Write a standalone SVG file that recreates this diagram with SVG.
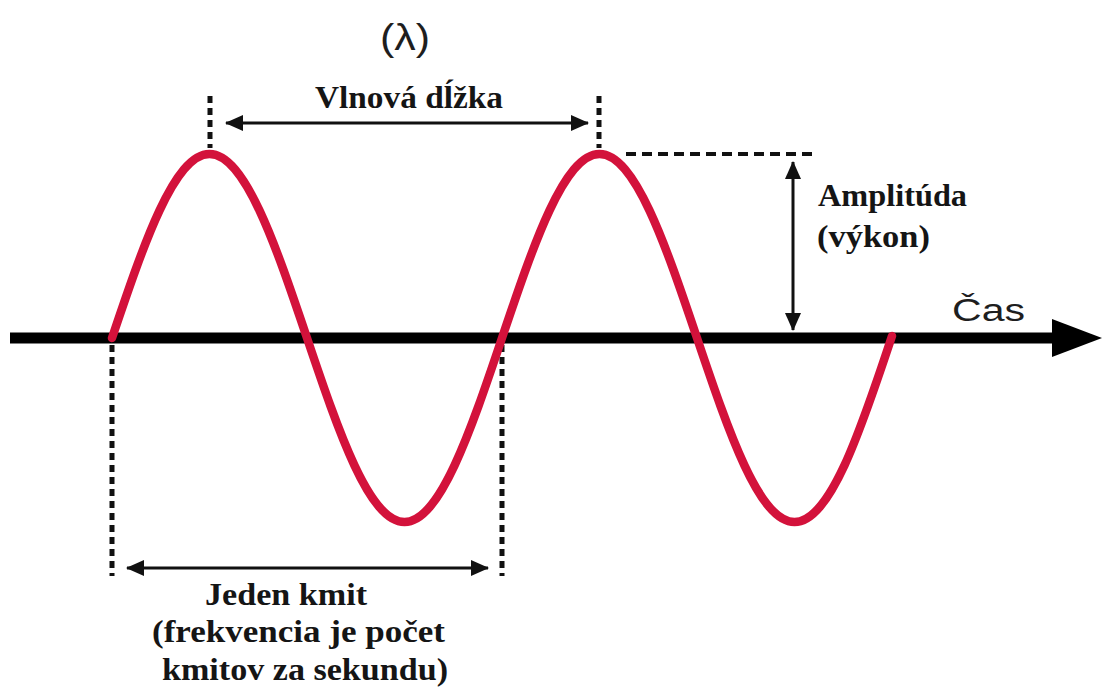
<svg xmlns="http://www.w3.org/2000/svg" width="1104" height="689" viewBox="0 0 1104 689">
<style>
.lbl{font-family:"Liberation Serif","DejaVu Serif","Times New Roman",serif;font-weight:bold;font-size:31px;fill:#151515}
.sans{font-family:"Liberation Sans",Arial,sans-serif;fill:#1e1e1e}
.dot{stroke:#111;stroke-width:5;fill:none;stroke-dasharray:7 5}
.dim{stroke:#111;stroke-width:3;fill:none}
.wave{stroke:#d3123b;stroke-width:8.5;fill:none;stroke-linecap:round}
</style>
<defs>
<marker id="ah" markerUnits="userSpaceOnUse" markerWidth="18" markerHeight="16" refX="17" refY="8" orient="auto-start-reverse">
<path d="M0,0 L18,8 L0,16 z" fill="#111"/>
</marker>
</defs>
<rect width="1104" height="689" fill="#fff"/>
<g id="axis">
<line x1="10" y1="338" x2="1056" y2="338" stroke="#000" stroke-width="11"/>
<polygon points="1052,319 1102,338 1052,357" fill="#000"/>
</g>
<g id="connectors">
<line class="dot" x1="210" y1="96" x2="210" y2="148"/>
<line class="dot" x1="599" y1="96" x2="599" y2="148"/>
<line class="dim" x1="226" y1="123" x2="588" y2="123" marker-start="url(#ah)" marker-end="url(#ah)"/>
<line x1="626" y1="154" x2="818" y2="154" stroke="#111" stroke-width="4" stroke-dasharray="10 6"/>
<line class="dim" x1="793" y1="162" x2="793" y2="330" marker-start="url(#ah)" marker-end="url(#ah)"/>
<line class="dot" x1="112" y1="345" x2="112" y2="576"/>
<line class="dot" x1="502" y1="345" x2="502" y2="576"/>
<line class="dim" x1="127" y1="568" x2="488" y2="568" marker-start="url(#ah)" marker-end="url(#ah)"/>
</g>
<g id="wave">
<path class="wave" d="M112,338 C143.8,243.74 174.21,154 209.5,154 C244.79,154 275.2,243.74 307,338 C338.8,432.26 369.21,522 404.5,522 C439.79,522 470.2,432.26 502,338 C533.8,243.74 564.21,154 599.5,154 C634.79,154 665.2,243.74 697,338 C728.8,432.26 759.21,522 794.5,522 C829.79,522 860.2,432.26 892,336"/>
</g>
<g id="lambda"><text class="sans" x="380" y="50" font-size="36" textLength="50" lengthAdjust="spacingAndGlyphs">(λ)</text></g>
<g id="wavelength"><text class="lbl" x="315" y="108" font-size="30" textLength="188" lengthAdjust="spacingAndGlyphs">Vlnová dĺžka</text></g>
<g id="amplitude">
<text class="lbl" x="818" y="206" font-size="29" textLength="149" lengthAdjust="spacingAndGlyphs">Amplitúda</text>
<text class="lbl" x="817" y="247" font-size="29" textLength="113" lengthAdjust="spacingAndGlyphs">(výkon)</text>
</g>
<g id="time"><text class="sans" x="952" y="321" font-size="31" textLength="73" lengthAdjust="spacingAndGlyphs">Čas</text></g>
<g id="cycle">
<text class="lbl" x="205" y="605" textLength="162" lengthAdjust="spacingAndGlyphs">Jeden kmit</text>
<text class="lbl" x="152" y="642" textLength="293" lengthAdjust="spacingAndGlyphs">(frekvencia je počet</text>
<text class="lbl" x="162" y="680" textLength="286" lengthAdjust="spacingAndGlyphs">kmitov za sekundu)</text>
</g>
</svg>
